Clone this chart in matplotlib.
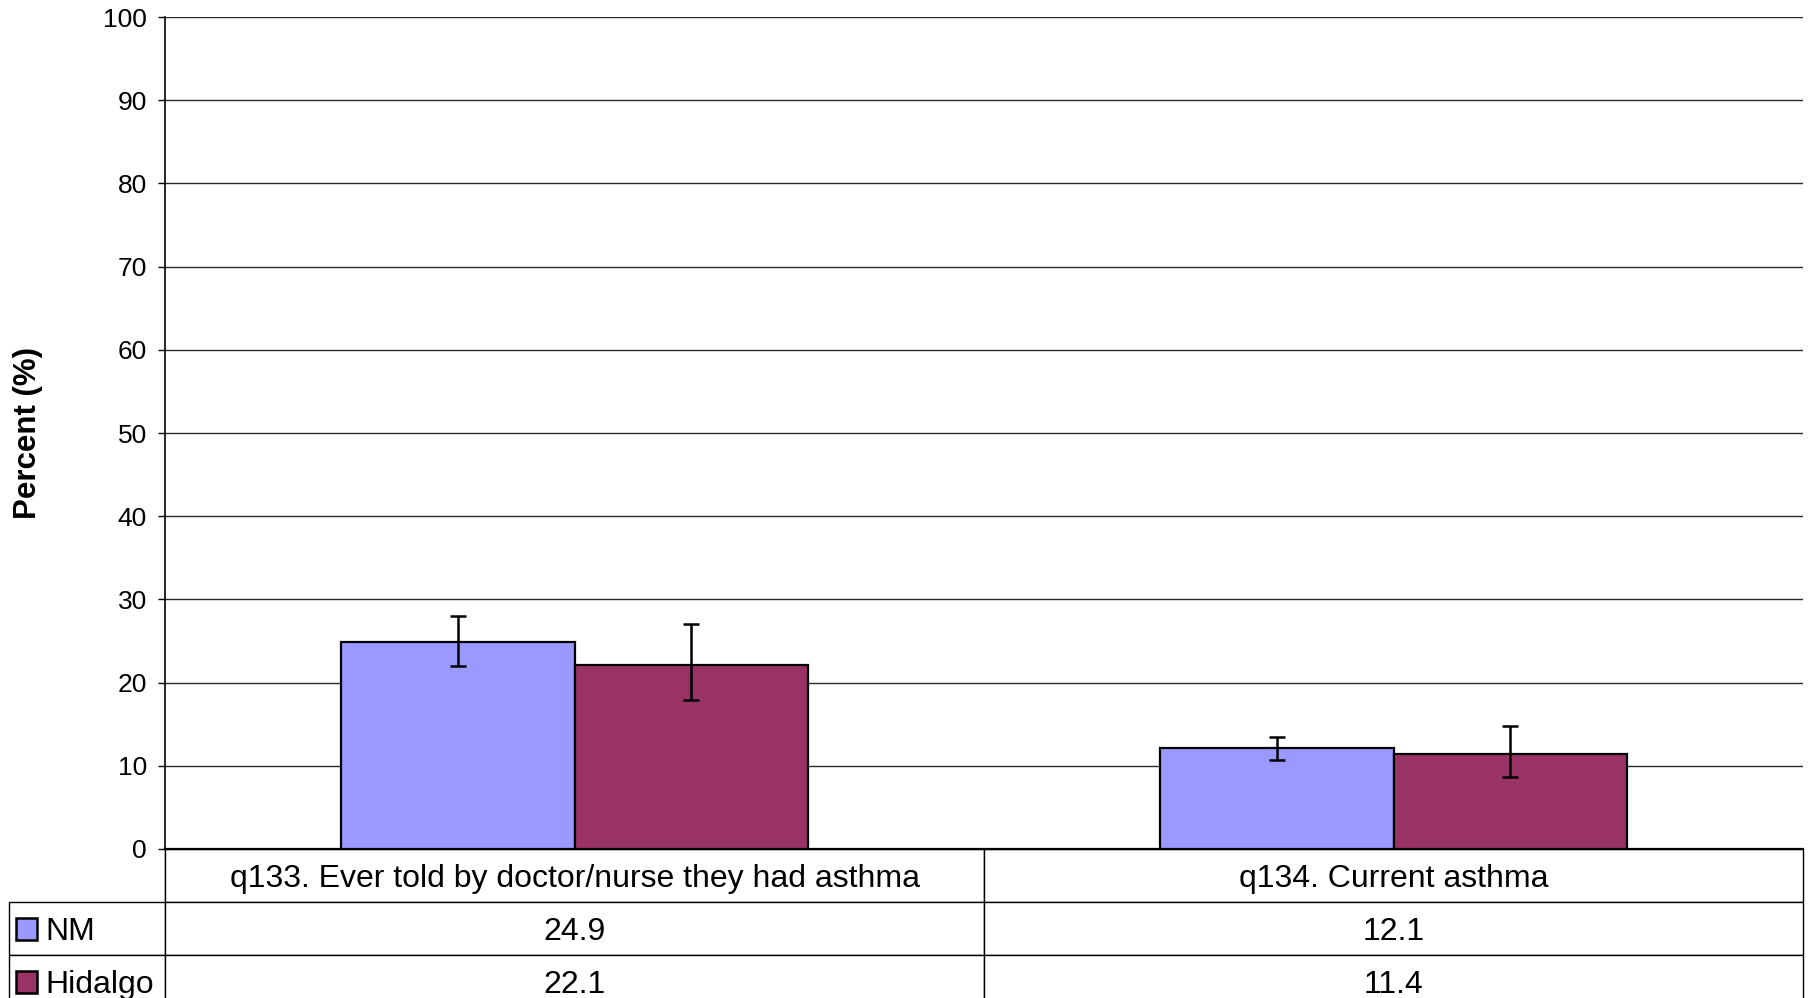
import matplotlib
matplotlib.use('Agg')

import matplotlib.pyplot as plt
import numpy as np
from matplotlib.patches import Rectangle

plt.rcParams['font.family'] = ['Liberation Sans', 'DejaVu Sans']

# data
categories = ['q133. Ever told by doctor/nurse they had asthma', 'q134. Current asthma']
series_names = ['NM', 'Hidalgo']
nm_values = [24.9, 12.1]
hidalgo_values = [22.1, 11.4]
nm_low = [22.0, 10.7]
nm_high = [28.0, 13.5]
hidalgo_low = [17.9, 8.6]
hidalgo_high = [27.0, 14.8]

colors = ['#9999FF', '#993366']

W, H = 1811, 998
fig = plt.figure(figsize=(W / 100, H / 100), dpi=100)
left, right, top, bottom = 165, 1803, 17, 849
ax = fig.add_axes([left / W, 1 - bottom / H, (right - left) / W, (bottom - top) / H])

x = np.arange(len(categories)) + 0.5
bw = 0.285

values = [nm_values, hidalgo_values]
lows = [nm_low, hidalgo_low]
highs = [nm_high, hidalgo_high]
for i in range(2):
    xs = x + (i - 0.5) * bw
    v = np.array(values[i])
    err = [v - np.array(lows[i]), np.array(highs[i]) - v]
    ax.bar(xs, v, width=bw, color=colors[i], edgecolor='black', linewidth=1.6, zorder=3)
    ax.errorbar(xs, v, yerr=err, fmt='none', ecolor='black', elinewidth=1.8,
                capsize=6, capthick=1.8, zorder=4)

ax.set_xlim(0, 2)
ax.set_ylim(0, 100)
ax.set_yticks(np.arange(0, 101, 10))
ax.set_xticks([])
ax.yaxis.grid(True, color='#2a2a2a', linewidth=1)
ax.set_axisbelow(True)
for s in ['top', 'right']:
    ax.spines[s].set_visible(False)
ax.spines['left'].set_linewidth(1.2)
ax.spines['bottom'].set_linewidth(1.6)
ax.tick_params(axis='y', labelsize=19, length=5, width=1, pad=8)
ax.set_ylabel('Percent (%)', fontsize=22.5, fontweight='bold')
axw = right - left
axh = bottom - top
ax.yaxis.set_label_coords(-(left - 43) / axw, 0.5)

# data table under the chart
tab_left = 9
row_h = 53
lab_w = (left - tab_left) / axw
cell_text = [[''] + categories,
             [series_names[0]] + [f'{v}' for v in nm_values],
             [series_names[1]] + [f'{v}' for v in hidalgo_values]]
tbl = ax.table(cellText=cell_text, colWidths=[lab_w, 0.5, 0.5], cellLoc='center',
               bbox=[-lab_w, -3 * row_h / axh, 1 + lab_w, 3 * row_h / axh])
tbl.auto_set_font_size(False)
tbl.set_fontsize(23)
for (r, c), cell in tbl.get_celld().items():
    cell.set_edgecolor('black')
    cell.set_linewidth(1)
    cell.get_text().set_va('center_baseline')
    if c == 0:
        cell.get_text().set_ha('left')
        cell._loc = 'left'
        cell.PAD = 0.23
    if r == 0 and c == 0:
        cell.visible_edges = 'R'

# legend keys in row labels
for i in range(2):
    y0 = -(row_h * (i + 1) + row_h / 2 + 11) / axh
    ax.add_patch(Rectangle((-(left - 16) / axw, y0), 21 / axw, 22 / axh,
                           transform=ax.transAxes, facecolor=colors[i],
                           edgecolor='black', linewidth=1.8, clip_on=False, zorder=5))

plt.savefig('out.png', dpi=100)
